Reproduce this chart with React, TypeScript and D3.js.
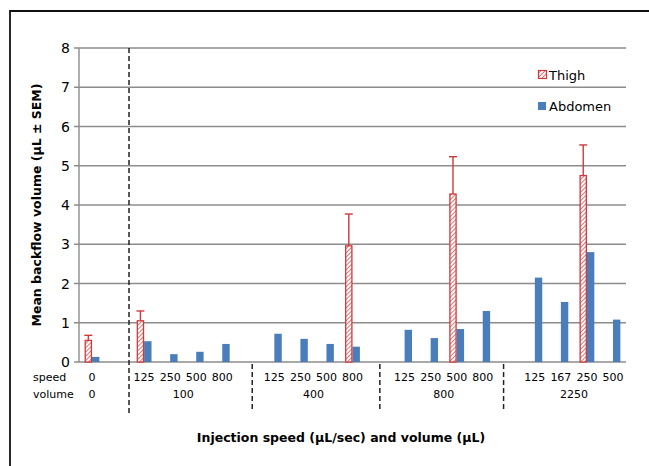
import React from "react";
import * as d3 from "d3";

const categories = ["0", "", "125", "250", "500", "800", "", "125", "250", "500", "800", "", "125", "250", "500", "800", "", "125", "167", "250", "500"];
const thigh = [0.55, 0, 1.05, 0, 0, 0, 0, 0, 0, 0, 2.96, 0, 0, 0, 4.28, 0, 0, 0, 0, 4.75, 0];
const thighErr = [0.68, 0, 1.3, 0, 0, 0, 0, 0, 0, 0, 3.77, 0, 0, 0, 5.23, 0, 0, 0, 0, 5.53, 0];
const abdomen = [0.13, 0, 0.53, 0.2, 0.26, 0.46, 0, 0.72, 0.59, 0.46, 0.39, 0, 0.82, 0.61, 0.84, 1.3, 0, 2.15, 1.53, 2.8, 1.08];
const volumeGroups = [
  { label: "0", from: 0, to: 0 },
  { label: "100", from: 2, to: 5 },
  { label: "400", from: 7, to: 10 },
  { label: "800", from: 12, to: 15 },
  { label: "2250", from: 17, to: 20 },
];
const separators = [1.92, 6.65, 11.55, 16.3];
const yTicks = [0, 1, 2, 3, 4, 5, 6, 7, 8];

const W = 649, H = 466;
const left = 79, right = 626, top = 48, bottom = 362;
const RED = "#d0393b";
const BLUE = "#4a7ebb";
const FONT = "DejaVu Sans, Verdana, sans-serif";

export default function App() {
  const x = d3.scaleBand<number>().domain(d3.range(categories.length)).range([left, right]).paddingInner(0).paddingOuter(0);
  const y = d3.scaleLinear().domain([0, 8]).range([bottom, top]);
  const bw = x.bandwidth();
  const barW = 7.4;
  const sepX = (p: number) => left + p * bw;

  return (
    <svg width={W} height={H} style={{ position: "fixed", left: 0, top: 0, background: "#fff" }} fontFamily={FONT}>
      <defs>
        <pattern id="hatch" width="3" height="3" patternUnits="userSpaceOnUse" patternTransform="rotate(45)">
          <rect width="3" height="3" fill="#fff" />
          <line x1="0" y1="0" x2="0" y2="3" stroke={RED} strokeWidth="1.4" />
        </pattern>
      </defs>
      <rect x={0} y={0} width={W} height={H} fill="#fff" />
      {/* frame */}
      <path d={`M10,${H} V11 H${W}`} fill="none" stroke="#111" strokeWidth={1.8} />

      {/* gridlines */}
      {yTicks.map((t) => (
        <g key={t}>
          <line x1={left - 5} x2={right} y1={y(t)} y2={y(t)} stroke="#8c8c8c" strokeWidth={1.4} />
          <text x={70} y={y(t)} dy="0.36em" textAnchor="end" fontSize={14} fill="#000">{t}</text>
        </g>
      ))}
      <line x1={left} x2={left} y1={top} y2={bottom} stroke="#8c8c8c" strokeWidth={1.4} />

      {/* separators */}
      {separators.map((p, i) => (
        <line key={i} x1={sepX(p)} x2={sepX(p)} y1={i === 0 ? top : bottom + 2} y2={i === 0 ? 416 : 412}
          stroke="#222" strokeWidth={1.5} strokeDasharray="5,3" />
      ))}

      {/* bars */}
      {categories.map((c, i) => {
        const cx = (x(i) as number) + bw / 2;
        return (
          <g key={i}>
            {abdomen[i] > 0 && (
              <rect x={cx} y={y(abdomen[i])} width={barW} height={y(0) - y(abdomen[i])} fill={BLUE} />
            )}
            {thigh[i] > 0 && (
              <g>
                <line x1={cx - barW / 2} x2={cx - barW / 2} y1={y(thigh[i])} y2={y(thighErr[i])} stroke={RED} strokeWidth={1.4} />
                <line x1={cx - barW / 2 - 4} x2={cx - barW / 2 + 4} y1={y(thighErr[i])} y2={y(thighErr[i])} stroke={RED} strokeWidth={1.4} />
                <rect x={cx - barW + 0.6} y={y(thigh[i])} width={barW - 1.2} height={y(0) - y(thigh[i])} fill="url(#hatch)" stroke={RED} strokeWidth={1.3} />
              </g>
            )}
            {c && (
              <text x={cx} y={377} dy="0.36em" textAnchor="middle" fontSize={11} fill="#000">{c}</text>
            )}
          </g>
        );
      })}

      {/* volume labels */}
      {volumeGroups.map((g) => {
        const cx = ((x(g.from) as number) + (x(g.to) as number) + bw) / 2;
        return (
          <text key={g.label} x={cx} y={394} dy="0.36em" textAnchor="middle" fontSize={11} fill="#000">{g.label}</text>
        );
      })}
      <text x={33} y={377} dy="0.36em" fontSize={11} fill="#000">speed</text>
      <text x={33} y={394} dy="0.36em" fontSize={11} fill="#000">volume</text>

      {/* legend */}
      <rect x={538.5} y={70.5} width={8} height={8} fill="url(#hatch)" stroke={RED} strokeWidth={1.2} />
      <text x={549} y={75} dy="0.36em" fontSize={13} fill="#000">Thigh</text>
      <rect x={538} y={102} width={8} height={8} fill={BLUE} />
      <text x={549} y={106} dy="0.36em" fontSize={13} fill="#000">Abdomen</text>

      {/* axis titles */}
      <text transform={`translate(41,${(top + bottom) / 2}) rotate(-90)`} textAnchor="middle" fontSize={12.5} fontWeight="bold" fill="#000">
        Mean backflow volume (µL ± SEM)
      </text>
      <text x={341} y={437} dy="0.36em" textAnchor="middle" fontSize={12.5} fontWeight="bold" fill="#000">
        Injection speed (µL/sec) and volume (µL)
      </text>
    </svg>
  );
}
